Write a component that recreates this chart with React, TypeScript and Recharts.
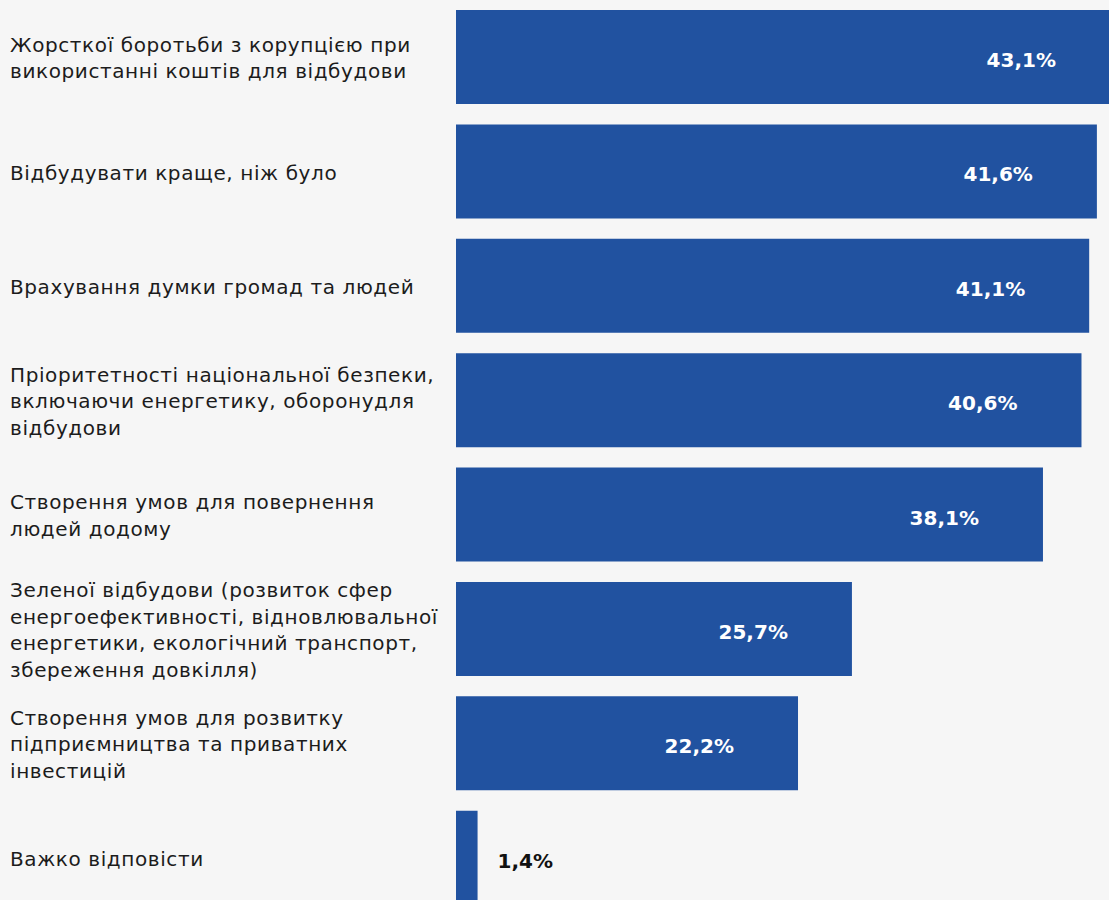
import React from "react";
import { BarChart, Bar, XAxis, YAxis, LabelList } from "recharts";

const categoryLines: string[][] = [
  ["Жорсткої боротьби з корупцією при", "використанні коштів для відбудови"],
  ["Відбудувати краще, ніж було"],
  ["Врахування думки громад та людей"],
  ["Пріоритетності національної безпеки,", "включаючи енергетику, оборонудля", "відбудови"],
  ["Створення умов для повернення", "людей додому"],
  ["Зеленої відбудови (розвиток сфер", "енергоефективності, відновлювальної", "енергетики, екологічний транспорт,", "збереження довкілля)"],
  ["Створення умов для розвитку", "підприємництва та приватних", "інвестицій"],
  ["Важко відповісти"],
];

const values: number[] = [43.1, 41.6, 41.1, 40.6, 38.1, 25.7, 22.2, 1.4];

const data = categoryLines.map((lines, i) => ({
  name: lines.join(" "),
  value: values[i],
  idx: i,
}));

const BAR_COLOR = "#2152a0";
const BG = "#f6f6f6";
const FONT = "'DejaVu Sans', 'Noto Sans', sans-serif";
const LINE_H = 26.5;

const fmt = (v: number) => v.toFixed(1).replace(".", ",") + "%";

const CategoryTick = (props: any) => {
  const { y, payload } = props;
  const lines = categoryLines[payload.index] || [String(payload.value)];
  const startY = y + 1 - ((lines.length - 1) * LINE_H) / 2;
  return (
    <text
      x={10}
      y={startY}
      fill="#1c1c1c"
      fontFamily={FONT}
      fontSize={20}
      letterSpacing={0.6}
      dominantBaseline="central"
    >
      {lines.map((l, i) => (
        <tspan key={i} x={10} y={startY + i * LINE_H}>
          {l}
        </tspan>
      ))}
    </text>
  );
};

const ValueLabel = (props: any) => {
  const { x, y, width, height, value } = props;
  const inside = width > 120;
  return (
    <text
      x={inside ? x + width - 64 : x + width + 20}
      y={y + height / 2 + 3}
      textAnchor={inside ? "end" : "start"}
      dominantBaseline="central"
      fill={inside ? "#ffffff" : "#111111"}
      fontFamily={FONT}
      fontWeight={700}
      fontSize={20}
    >
      {fmt(Number(value))}
    </text>
  );
};

export default function App() {
  return (
    <div
      style={{
        position: "absolute",
        top: 0,
        left: 0,
        width: 1109,
        height: 900,
        overflow: "hidden",
        background: BG,
      }}
    >
      <BarChart
        width={1120}
        height={915}
        data={data}
        layout="vertical"
        margin={{ top: 0, right: 0, bottom: 0, left: 0 }}
        barSize={94}
      >
        <XAxis type="number" domain={[0, 43.1]} hide />
        <YAxis
          type="category"
          dataKey="name"
          width={456}
          axisLine={false}
          tickLine={false}
          tick={<CategoryTick />}
          interval={0}
        />
        <Bar dataKey="value" fill={BAR_COLOR} isAnimationActive={false}>
          <LabelList dataKey="value" content={<ValueLabel />} />
        </Bar>
      </BarChart>
    </div>
  );
}
